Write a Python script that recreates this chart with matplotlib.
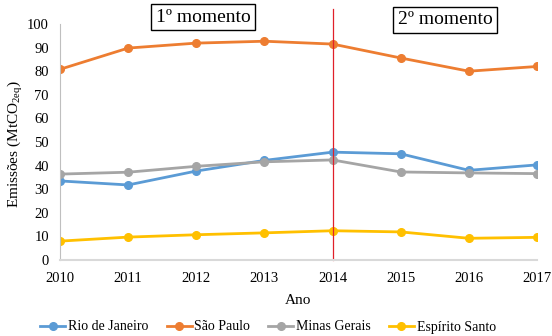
import matplotlib.pyplot as plt

anos = [2010, 2011, 2012, 2013, 2014, 2015, 2016, 2017]
rio = [33.5, 31.8, 37.7, 42.2, 45.7, 45.0, 38.0, 40.3]
sao_paulo = [80.8, 89.8, 91.9, 92.7, 91.5, 85.6, 80.0, 82.0]
minas = [36.4, 37.2, 39.7, 41.6, 42.4, 37.3, 36.9, 36.6]
espirito = [8.0, 9.7, 10.7, 11.5, 12.4, 11.9, 9.2, 9.6]

plt.rcParams['font.family'] = ['Liberation Serif', 'DejaVu Serif']
plt.rcParams['mathtext.fontset'] = 'custom'
plt.rcParams['mathtext.rm'] = 'Liberation Serif'

fig = plt.figure(figsize=(5.52, 3.36), dpi=100)
ax = fig.add_axes([60/552, 1-260/336, (537-60)/552, (260-24)/336])

series = [("Rio de Janeiro", rio, "#5B9BD5"),
          ("São Paulo", sao_paulo, "#ED7D31"),
          ("Minas Gerais", minas, "#A5A5A5"),
          ("Espírito Santo", espirito, "#FFC000")]
for nome, vals, cor in series:
    ax.plot(anos, vals, color=cor, lw=2, marker="o", ms=5.5, label=nome)

ax.set_xlim(2010, 2017)
ax.set_ylim(0, 100)
ax.set_yticks(range(0, 101, 10))
ax.set_xticks(anos)
ax.tick_params(length=0, labelsize=10.5)
ax.tick_params(axis="x", pad=9)
ax.tick_params(axis="y", pad=8)
for s in ["top", "right"]:
    ax.spines[s].set_visible(False)
ax.spines["left"].set_color("#BFBFBF")
ax.spines["bottom"].set_color("#D9D9D9")
ax.spines["bottom"].set_linewidth(1.5)

ax.axvline(2014, ymin=0, ymax=1.065, color="#E0202A", lw=0.9, clip_on=False)

ax.set_xlabel("Ano", fontsize=11, labelpad=6)
fig.text(15/552, 1-144/336, "Emissões (MtCO$_{\\mathrm{2eq}}$)", fontsize=11,
         rotation=90, ha="center", va="center")

box = dict(boxstyle="square,pad=0.25", fc="white", ec="black", lw=1)
fig.text(203/552, 1-17/336, "1º momento", fontsize=14, ha="center", va="center", bbox=box)
fig.text(445/552, 1-20/336, "2º momento", fontsize=14, ha="center", va="center", bbox=box)

fig.legend(loc="center", bbox_to_anchor=(268/552, 1-327/336), ncol=4, frameon=False,
           fontsize=10, handlelength=1.8, handletextpad=0.2, columnspacing=1.3)

fig.savefig("out.png", dpi=100)
